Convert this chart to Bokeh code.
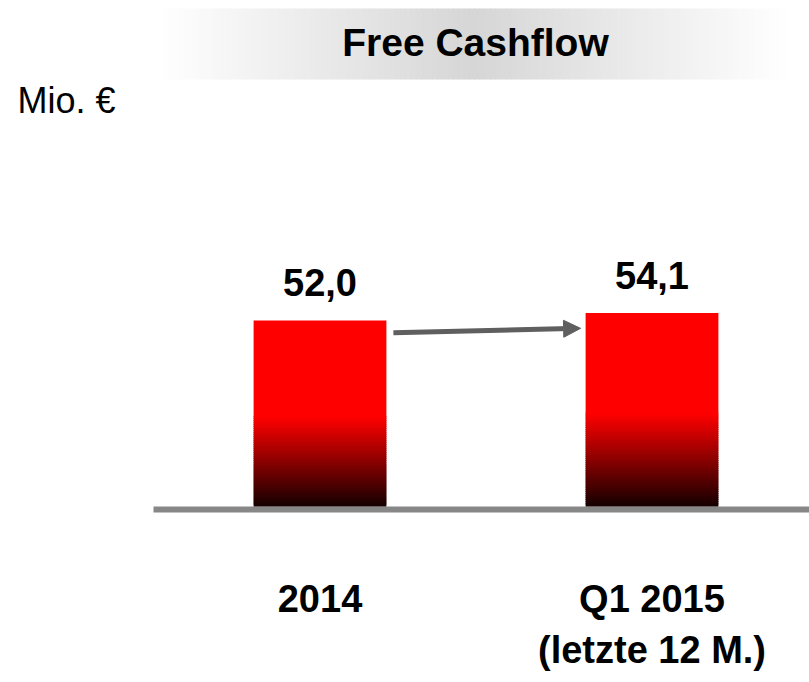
from bokeh.plotting import figure
from bokeh.models import Range1d, Arrow, NormalHead
from bokeh.core.properties import value
from bokeh.embed import file_html
from bokeh.resources import INLINE

# ---- data ----
categories = ["2014", "Q1 2015"]
category_sub = ["", "(letzte 12 M.)"]
values = [52.0, 54.1]
value_labels = ["52,0", "54,1"]
title_text = "Free Cashflow"
unit_text = "Mio. €"

# ---- layout helpers (pixel geometry of the page) ----
W, H = 809, 682
PPU_Y = 3.577          # pixels per value unit
PPU_X = 332.0          # pixels per category step
BASE_PX = 506.0        # page y of the zero line
CAT0_PX = 319.5        # page x of first category centre
BAR_W = 0.40
FONT = "Liberation Sans"
BL_SHIFT = 0.41        # correction of the svg text baseline, in em


def px2x(px):
    return (px - CAT0_PX) / PPU_X


def py2y(py):
    return (BASE_PX - py) / PPU_Y


def base(py, fs):
    """data y for a wanted alphabetic baseline at page y py"""
    return py2y(py - BL_SHIFT * fs)


p = figure(width=W, height=H, output_backend="svg", toolbar_location=None,
           x_range=Range1d(px2x(0), px2x(W)),
           y_range=Range1d(py2y(H), py2y(0)),
           min_border=0)
p.axis.visible = False
p.grid.visible = False
p.outline_line_color = None
p.background_fill_color = "white"
p.border_fill_color = "white"

# ---- title banner with horizontal grey gradient ----
b_left, b_right, b_top, b_bot = 157, 790, 8, 79
b_mid = (b_left + b_right) / 2
n_slices = 120
lefts, rights, cols = [], [], []
for i in range(n_slices):
    a = b_left + (b_right - b_left) * i / n_slices
    b = b_left + (b_right - b_left) * (i + 1) / n_slices
    c = (a + b) / 2
    t = 1 - abs(c - b_mid) / (b_mid - b_left)
    g = int(round(255 - 41 * t))
    lefts.append(px2x(a))
    rights.append(px2x(b + 1.0))
    cols.append("#%02x%02x%02x" % (g, g, g))
p.quad(left=lefts, right=rights, top=py2y(b_top), bottom=py2y(b_bot),
       fill_color=cols, line_color=None)

p.text(x=[px2x(475)], y=[base(58, 39)], text=[title_text],
       text_font=value(FONT), text_font_style="bold",
       text_font_size="39px", text_align="center", text_baseline="alphabetic",
       text_color="black")

p.text(x=[px2x(17)], y=[base(115, 36)], text=[unit_text],
       text_font=value(FONT), text_font_size="36px",
       text_align="left", text_baseline="alphabetic", text_color="black")

# ---- baseline ----
p.quad(left=[px2x(153)], right=[px2x(W)], top=[0], bottom=[-6 / PPU_Y],
       fill_color="#878787", line_color=None)

# ---- bars with red -> black gradient in their lower part ----
GRAD_FRAC = 0.48
n_g = 45
overlap = 1.2 / PPU_Y
for i, v in enumerate(values):
    solid_bottom = v * GRAD_FRAC
    bots, tops, gcols = [], [], []
    for k in range(n_g):
        f0 = k / n_g
        f1 = (k + 1) / n_g
        t = (f0 + f1) / 2          # 0 at bottom, 1 at top of gradient zone
        r = int(round(20 + (255 - 20) * t))
        bots.append(solid_bottom * f0)
        tops.append(solid_bottom * f1 + overlap)
        gcols.append("#%02x0000" % r)
    p.vbar(x=[i] * n_g, width=BAR_W, bottom=bots, top=tops,
           fill_color=gcols, line_color=None)
    p.vbar(x=[i], width=BAR_W, bottom=[solid_bottom], top=[v],
           fill_color="#ff0000", line_color=None)

# ---- value labels ----
p.text(x=list(range(len(values))),
       y=[v + (22 + BL_SHIFT * 38) / PPU_Y for v in values],
       text=value_labels, text_font=value(FONT),
       text_font_style="bold", text_font_size="38px", text_align="center",
       text_baseline="alphabetic", text_color="black")

# ---- category labels ----
p.text(x=list(range(len(categories))), y=[base(614, 38)] * len(categories),
       text=categories, text_font=value(FONT),
       text_font_style="bold", text_font_size="38px", text_align="center",
       text_baseline="alphabetic", text_color="black")
p.text(x=list(range(len(category_sub))), y=[base(665, 38)] * len(category_sub),
       text=category_sub, text_font=value(FONT),
       text_font_style="bold", text_font_size="38px", text_align="center",
       text_baseline="alphabetic", text_color="black")

# ---- arrow between bars ----
gap = 7 / PPU_X
arrow = Arrow(end=NormalHead(size=17, fill_color="#5f5f5f", line_color="#5f5f5f"),
              x_start=0 + BAR_W / 2 + gap, y_start=values[0] - 3.4,
              x_end=1 - BAR_W / 2 - 5 / PPU_X, y_end=values[1] - 4.3,
              line_color="#5f5f5f", line_width=5)
p.add_layout(arrow)

open("out.html", "w").write(file_html(p, INLINE))
